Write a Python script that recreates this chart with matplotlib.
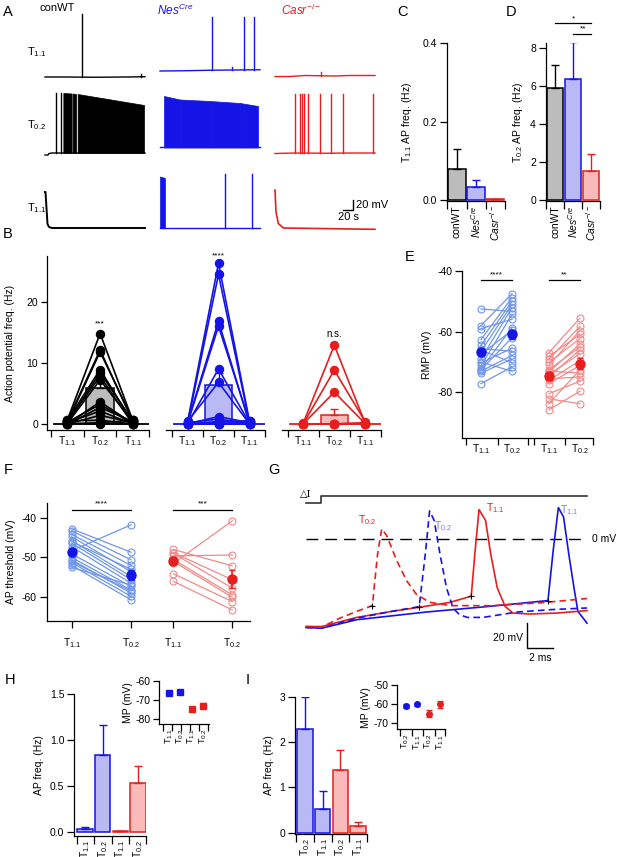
import matplotlib.pyplot as plt
import numpy as np

plt.rcParams['font.family'] = ['Liberation Sans', 'DejaVu Sans']
plt.rcParams['mathtext.fontset'] = 'custom'
plt.rcParams['mathtext.rm'] = 'Liberation Sans'
plt.rcParams['mathtext.it'] = 'Liberation Sans:italic'
plt.rcParams['axes.unicode_minus'] = False
plt.rcParams['font.size'] = 7.5
plt.rcParams['axes.linewidth'] = 0.9

W, H = 617, 857
BLUE = '#1414e6'
RED = '#e61e1e'
LBLUE = '#7096ea'
LRED = '#f28a8a'
FBLUE = '#b9b9f5'
FRED = '#f9baba'
GRAY = '#bcbcbc'
T11 = 'T$_{1.1}$'
T02 = 'T$_{0.2}$'
GENO = ['conWT', r'$\mathit{Nes}^{\mathit{Cre}}$', r'$\mathit{Casr}^{-/-}$']

# ---------------- A: example traces (time s, Vm mV) ----------------
wt1_t = [0, 40, 100, 160, 200]
wt1_v = [-70, -70, -70.5, -70, -69.5]
wt1_spk_t = [73, 192]
wt1_spk_v = [56, -63]
nes1_t = [0, 50, 100, 150, 200]
nes1_v = [-58, -57.5, -56.5, -56, -55.5]
nes1_spk_t = [104, 144, 167, 187]
nes1_spk_v = [50, -50, 50, 50]
casr1_t = [0, 30, 60, 90, 120, 150, 200]
casr1_v = [-69, -69, -67, -67.5, -68, -67, -67]
casr1_spk_t = [92]
casr1_spk_v = [-60]

wt2_t = [0, 6, 8, 14, 200]
wt2_v = [-70, -70, -67, -66, -66]
wt2_spk_t = [22, 33]
wt2_spk_v = [54, 54]
wt2_blocks = [(36.7, 53.3), (55.3, 62.0), (65.3, 198.0)]
wt2_tops = [(54, 53), (53, 52), (52, 30)]
nes2_t = [0, 8, 200]
nes2_v = [-54, -54, -54]
nes2_blocks = [(8, 40), (40, 100), (100, 160), (160, 196)]
nes2_tops = [(48, 41), (41, 38), (38, 34), (34, 28)]
casr2_t = [0, 40, 100, 150, 200]
casr2_v = [-67, -66, -66.5, -66, -66]
casr2_spk_t = [40.6, 50, 53.4, 58, 66.6, 90, 111.4, 135.4, 196.6]
casr2_spk_v = [51, 51, 51, 51, 51, 51, 51, 51, 51]

wt3_t = [0, 1, 3, 5, 8, 14, 200]
wt3_v = [2, 2, -30, -62, -68, -70, -70]
nes3_t = [0, 10, 200]
nes3_v = [-70, -70, -70]
nes3_blocks = [(0, 10)]
nes3_tops = [(33, 30)]
nes3_spk_t = [130, 183]
nes3_spk_v = [38, 38]
casr3_t = [0, 2, 6.7, 16.7, 200]
casr3_v = [6, -38, -61, -70, -72.6]

# ---------------- B: AP frequency per cell (Hz) ----------------
wt_b_t11a = [0.7, 0.5, 0.3, 0.6, 0.2, 0.4, 0.1, 0.0, 0.3, 0.0, 0.2, 0.0, 0.5, 0.0, 0.1]
wt_b_t02 = [14.8, 12.1, 11.8, 8.9, 8.4, 7.8, 7.2, 3.6, 3.2, 2.7, 2.1, 1.4, 0.6, 0.2, 0.0]
wt_b_t11b = [0.6, 0.4, 0.7, 0.2, 0.5, 0.0, 0.3, 0.1, 0.0, 0.4, 0.0, 0.2, 0.0, 0.6, 0.0]
nes_b_t11a = [0.3, 0.0, 0.2, 0.1, 0.0, 0.4, 0.0, 0.2, 0.0, 0.1, 0.0, 0.0, 0.3, 0.0]
nes_b_t02 = [26.3, 24.5, 16.8, 16.0, 9.0, 6.8, 1.2, 0.8, 0.4, 0.2, 0.0, 0.0, 0.0, 0.0]
nes_b_t11b = [0.4, 0.2, 0.0, 0.3, 0.1, 0.0, 0.2, 0.0, 0.5, 0.0, 0.1, 0.0, 0.0, 0.3]
casr_b_t11a = [0.1, 0.0, 0.0, 0.0, 0.0, 0.0, 0.0, 0.0]
casr_b_t02 = [12.9, 8.8, 5.2, 0.0, 0.0, 0.0, 0.0, 0.0]
casr_b_t11b = [0.0, 0.3, 0.0, 0.2, 0.0, 0.0, 0.1, 0.0]

# ---------------- C / D: mean AP freq ----------------
c_mean = [0.08, 0.033, 0.002]
c_err = [0.05, 0.017, 0.001]
d_mean = [5.9, 6.35, 1.5]
d_err = [1.2, 1.95, 0.9]

# ---------------- E: RMP (mV) ----------------
rmp_nes_t11 = [-52.5, -58.0, -59.0, -62.6, -64.5, -65.6, -66.5, -67.5, -69.0, -70.3,
               -71.3, -72.2, -73.0, -73.6, -77.1, -66.0, -70.0, -72.5]
rmp_nes_t02 = [-53.3, -47.5, -55.9, -48.8, -50.0, -66.4, -51.0, -59.5, -52.1, -65.4,
               -54.3, -58.7, -67.8, -69.0, -71.6, -70.2, -73.0, -62.0]
rmp_casr_t11 = [-66.9, -68.1, -69.1, -70.1, -71.1, -72.5, -73.3, -74.0, -74.9, -76.0,
                -77.1, -80.4, -82.1, -83.7, -85.7, -73.0, -75.5]
rmp_casr_t02 = [-55.5, -60.9, -58.2, -62.3, -59.6, -65.0, -64.0, -67.3, -65.9, -69.5,
                -71.1, -76.3, -83.7, -72.5, -79.6, -73.6, -74.9]
rmp_mean_nes = [-66.7, -60.9]
rmp_err_nes = [1.0, 1.5]
rmp_mean_casr = [-74.6, -70.5]
rmp_err_casr = [1.2, 1.8]

# ---------------- F: AP threshold (mV) ----------------
thr_nes_t11 = [-42.8, -43.3, -44.2, -44.8, -45.8, -46.4, -47.3, -48.3, -49.1, -50.0,
               -50.6, -51.3, -52.0, -52.5, -46.0, -51.0]
thr_nes_t02 = [-48.7, -50.6, -52.0, -53.6, -54.8, -55.6, -56.5, -41.8, -57.3, -58.2,
               -59.0, -59.8, -60.7, -57.0, -53.0, -58.5]
thr_casr_t11 = [-48.0, -48.8, -49.6, -50.5, -51.5, -54.1, -56.0, -49.0, -51.0]
thr_casr_t02 = [-52.1, -55.6, -49.4, -59.4, -40.8, -61.1, -63.2, -57.7, -60.0]
thr_mean_nes = [-48.7, -54.4]
thr_err_nes = [1.0, 1.2]
thr_mean_casr = [-50.9, -55.4]
thr_err_casr = [0.8, 2.2]

# ---------------- G: single APs (ms, mV) ----------------
g_red02_t = [0, 1.2, 2.6, 3.9, 5.1, 5.5, 5.82, 6.2, 6.98, 7.75, 8.5, 9.5, 11.1, 14.2, 18.0, 21.6]
g_red02_v = [-72.5, -73, -65.6, -60, -55.3, -12.8, 8, 2.5, -18.3, -35, -46.1, -52.5, -55.3, -55.3, -53, -49.4]
g_blue02_t = [0, 1.2, 3.9, 6.6, 8.7, 9.2, 9.5, 9.85, 10.3, 10.8, 11.3, 11.8, 12.4, 13.6, 16.2, 18.8, 21.6]
g_blue02_v = [-73.3, -73.9, -65.6, -60, -56.1, -10, 22.8, 15, -12.8, -40.6, -57.2, -62.8, -65, -65, -60.6, -58.6, -57.2]
g_red11_t = [0, 1.2, 3.9, 6.6, 9.2, 11.1, 12.7, 13.0, 13.3, 13.8, 14.2, 14.7, 15.3, 15.9, 17.2, 19.3, 21.6]
g_red11_v = [-72.5, -72.5, -65, -60, -55.8, -52.5, -47.5, -10, 23.9, 15, -12.8, -40.6, -55.8, -61.4, -62.2, -61.4, -59.4]
g_blue11_t = [0, 1.2, 3.9, 9.2, 14.2, 18.6, 19.0, 19.4, 19.8, 20.2, 20.6, 20.9, 21.6]
g_blue11_v = [-73.3, -73.9, -66.9, -60.6, -55.8, -51.1, -10, 25.6, 17.8, -12.8, -40.6, -60, -69.7]
g_thr_t = [5.1, 8.7, 12.7, 18.6]
g_thr_v = [-55.3, -56.1, -47.5, -51.1]
g_step_t = [0, 1.13, 1.13, 21.6]
g_step_v = [29, 29, 35, 35]

# ---------------- H / I ----------------
h_labels = [T11, T02, T11, T02]
h_mean = [0.03, 0.84, 0.005, 0.53]
h_err = [0.02, 0.32, 0.003, 0.19]
h_mp = [-66.3, -65.6, -74.5, -72.9]
h_mp_err = [1.0, 0.8, 1.0, 1.2]
i_labels = [T02, T11, T02, T11]
i_mean = [2.28, 0.52, 1.38, 0.14]
i_err = [0.72, 0.40, 0.44, 0.10]
i_mp = [-60.8, -60.0, -64.9, -60.0]
i_mp_err = [1.0, 0.8, 1.7, 1.8]
hi_edge = [BLUE, BLUE, RED, RED]
hi_fill = [FBLUE, FBLUE, FRED, FRED]

fig = plt.figure(figsize=(W / 100, H / 100), dpi=100)


def px_axes(x0, y0, x1, y1):
    return fig.add_axes([x0 / W, 1 - y1 / H, (x1 - x0) / W, (y1 - y0) / H])


def style(ax, ylen=4, xlen=4):
    for s in ('top', 'right'):
        ax.spines[s].set_visible(False)
    ax.tick_params(axis='y', direction='out', length=ylen, width=0.9, labelsize=7.5, pad=2)
    ax.tick_params(axis='x', direction='out', length=xlen, width=0.9, labelsize=7.5, pad=2)


def ftext(x, y, s, **kw):
    fig.text(x / W, 1 - y / H, s, **kw)


# ----- A -----
def trace_ax(x0, y_top, y_bot, y_ref):
    ax = px_axes(x0, y_top, x0 + 100, y_bot)
    ax.set_xlim(0, 200)
    ax.set_ylim(-70 - (y_bot - y_ref) * 2, -70 + (y_ref - y_top) * 2)
    ax.axis('off')
    return ax


def draw_trace(ax, t, v, color, spk_t=(), spk_v=(), blocks=(), tops=(), low=None, lw=1.0):
    ax.plot(t, v, color=color, lw=lw, clip_on=False)
    for s, p in zip(spk_t, spk_v):
        ax.plot([s, s], [np.interp(s, t, v), p], color=color, lw=1.0, clip_on=False)
    for (b0, b1), (h0, h1) in zip(blocks, tops):
        ax.fill_between([b0, b1], [low, low], [h0, h1], color=color, lw=0.5, clip_on=False)


rows = [(5, 85, 77), (85, 162, 155), (165, 236, 228)]
cols = [45, 160, 275]
a = trace_ax(cols[0], *rows[0]); draw_trace(a, wt1_t, wt1_v, 'black', wt1_spk_t, wt1_spk_v)
a = trace_ax(cols[1], *rows[0]); draw_trace(a, nes1_t, nes1_v, BLUE, nes1_spk_t, nes1_spk_v)
a = trace_ax(cols[2], *rows[0]); draw_trace(a, casr1_t, casr1_v, RED, casr1_spk_t, casr1_spk_v)
a = trace_ax(cols[0], *rows[1]); draw_trace(a, wt2_t, wt2_v, 'black', wt2_spk_t, wt2_spk_v, wt2_blocks, wt2_tops, -66)
a = trace_ax(cols[1], *rows[1]); draw_trace(a, nes2_t, nes2_v, BLUE, blocks=nes2_blocks, tops=nes2_tops, low=-55)
a = trace_ax(cols[2], *rows[1]); draw_trace(a, casr2_t, casr2_v, RED, casr2_spk_t, casr2_spk_v)
a = trace_ax(cols[0], *rows[2]); draw_trace(a, wt3_t, wt3_v, 'black', lw=1.4)
a = trace_ax(cols[1], *rows[2]); draw_trace(a, nes3_t, nes3_v, BLUE, nes3_spk_t, nes3_spk_v, nes3_blocks, nes3_tops, -70)
a = trace_ax(cols[2], *rows[2]); draw_trace(a, casr3_t, casr3_v, RED, lw=1.2)
# scale bar 20 mV / 20 s
a.plot([136, 156, 156], [-33.4, -33.4, -13.4], color='black', lw=1.0, clip_on=False)
a.text(162, -23, '20 mV', fontsize=8, va='center', ha='left')
a.text(146, -38, '20 s', fontsize=8, va='top', ha='center')

ftext(40, 8, 'conWT', fontsize=8, va='center')
ftext(157, 10, GENO[1], fontsize=8.5, va='center', color=BLUE)
ftext(281, 10, GENO[2], fontsize=8.5, va='center', color=RED)
ftext(27, 52, T11, fontsize=8, va='center')
ftext(27, 125, T02, fontsize=8, va='center')
ftext(27, 208, T11, fontsize=8, va='center')

# ----- B -----
b_boxes = [(46.5, 149, -0.144, 0.073), (165.5, 265, -0.21, 0.09), (281.7, 381, -0.19, 0.083)]
b_groups = [(wt_b_t11a, wt_b_t02, wt_b_t11b, 'black', GRAY, d_mean[0], d_err[0]),
            (nes_b_t11a, nes_b_t02, nes_b_t11b, BLUE, FBLUE, d_mean[1], d_err[1]),
            (casr_b_t11a, casr_b_t02, casr_b_t11b, RED, FRED, d_mean[2], d_err[2])]
b_axes = []
for k, ((x0, x1, xl, zs), (ta, tb, tc, col, fill, m, e)) in enumerate(zip(b_boxes, b_groups)):
    ax = px_axes(x0, 256, x1, 430)
    style(ax, xlen=5)
    ax.set_xlim(xl, 3.0)
    ax.set_ylim(-1, 27.5)
    ax.bar(1.5, m, width=0.85, color=fill, edgecolor=col, lw=1.1, zorder=1)
    ax.errorbar(1.5, m, yerr=[[0], [e]], color=col, capsize=3, lw=1.0, capthick=1.0, zorder=1)
    ax.axhline(0, xmin=zs, xmax=1, color=col, lw=1.3, zorder=2)
    for p, q, r in zip(ta, tb, tc):
        ax.plot([0.5, 1.5, 2.5], [p, q, r], '-o', color=col, ms=5.8, lw=1.2, zorder=3, clip_on=False)
    ax.set_xticks([0, 1, 2, 3])
    ax.set_xticklabels([])
    ax.set_xticks([0.5, 1.5, 2.5], minor=True)
    ax.set_xticklabels([T11, T02, T11], minor=True)
    ax.tick_params(axis='x', which='minor', length=0, pad=3, labelsize=7.5)
    if k == 0:
        ax.set_yticks([0, 10, 20])
        ax.set_ylabel('Action potential freq. (Hz)', fontsize=7.5, labelpad=8)
    else:
        ax.spines['left'].set_visible(False)
        ax.set_yticks([])
    b_axes.append(ax)
b_axes[0].text(1.5, 15.8, '***', ha='center', va='bottom', fontsize=6)
b_axes[1].text(1.5, 27.0, '****', ha='center', va='bottom', fontsize=6)
b_axes[2].text(1.5, 13.9, 'n.s.', ha='center', va='bottom', fontsize=7)

# ----- C -----
edges = ['black', BLUE, RED]
fills = [GRAY, FBLUE, FRED]
ax = px_axes(447, 43, 505, 201)
style(ax, ylen=5, xlen=6)
ax.bar([0, 1, 2], c_mean, width=0.93, color=fills, edgecolor=edges, lw=1.1)
for xi, m, e, col in zip([0, 1, 2], c_mean, c_err, edges):
    ax.errorbar(xi, m, yerr=[[0], [e]], color=col, capsize=3, lw=1.0, capthick=1.0)
ax.set_xlim(-0.52, 2.5)
ax.set_ylim(-0.0025, 0.4)
ax.set_yticks([0.0, 0.2, 0.4])
ax.set_yticklabels(['0.0', '0.2', '0.4'])
ax.set_xticks([-0.5, 0.5, 1.5, 2.5])
ax.set_xticklabels([])
ax.set_xticks([0, 1, 2], minor=True)
ax.set_xticklabels(GENO, minor=True, rotation=90)
ax.tick_params(axis='x', which='minor', length=0, pad=3)
ax.set_ylabel('T$_{1.1}$ AP freq. (Hz)', fontsize=7.5, labelpad=6)

# ----- D -----
ax = px_axes(545.7, 43, 600, 201)
style(ax, ylen=5, xlen=6)
ax.bar([0, 1, 2], d_mean, width=0.93, color=fills, edgecolor=edges, lw=1.1)
for xi, m, e, col in zip([0, 1, 2], d_mean, d_err, edges):
    ax.errorbar(xi, m, yerr=[[0], [e]], color=col, capsize=3, lw=1.0, capthick=1.0)
ax.set_xlim(-0.52, 2.5)
ax.set_ylim(-0.053, 8.26)
ax.set_yticks([0, 2, 4, 6, 8])
ax.set_xticks([-0.5, 0.5, 1.5, 2.5])
ax.set_xticklabels([])
ax.set_xticks([0, 1, 2], minor=True)
ax.set_xticklabels(GENO, minor=True, rotation=90)
ax.tick_params(axis='x', which='minor', length=0, pad=3)
ax.set_ylabel('T$_{0.2}$ AP freq. (Hz)', fontsize=7.5, labelpad=4)
ax.plot([0, 2], [9.3, 9.3], color='black', lw=0.9, clip_on=False)
ax.plot([1, 2], [8.75, 8.75], color='black', lw=0.9, clip_on=False)
ax.text(1.0, 9.35, '*', ha='center', va='bottom', fontsize=6)
ax.text(1.55, 8.8, '**', ha='center', va='bottom', fontsize=6)


# ----- E -----
def paired(ax, xs, a_vals, b_vals, col):
    for p, q in zip(a_vals, b_vals):
        ax.plot(xs, [p, q], '-o', color=col, mfc='none', ms=5, lw=0.9, mew=0.8, clip_on=False)


ax = px_axes(462, 271, 593, 438)
style(ax, ylen=5, xlen=5)
ax.set_xlim(-0.61, 3.61)
ax.set_ylim(-95, -40)
paired(ax, [0, 1], rmp_nes_t11, rmp_nes_t02, LBLUE)
paired(ax, [2.19, 3.19], rmp_casr_t11, rmp_casr_t02, LRED)
ax.errorbar([0, 1], rmp_mean_nes, yerr=rmp_err_nes, fmt='o', color=BLUE, ms=6.5,
            capsize=2.5, elinewidth=1.2, capthick=1.0, zorder=5)
ax.errorbar([2.19, 3.19], rmp_mean_casr, yerr=rmp_err_casr, fmt='o', color=RED, ms=6.5,
            capsize=2.5, elinewidth=1.2, capthick=1.0, zorder=5)
ax.plot([0, 1], [-43, -43], color='black', lw=0.9)
ax.plot([2.19, 3.19], [-43, -43], color='black', lw=0.9)
ax.text(0.5, -42.3, '****', ha='center', va='bottom', fontsize=6)
ax.text(2.69, -42.3, '**', ha='center', va='bottom', fontsize=6)
ax.set_yticks([-40, -60, -80])
ax.set_xticks([-0.48, 0.55, 1.52, 1.71, 2.71, 3.61])
ax.set_xticklabels([])
ax.set_xticks([0, 1, 2.19, 3.19], minor=True)
ax.set_xticklabels([T11, T02, T11, T02], minor=True)
ax.tick_params(axis='x', which='minor', length=0, pad=3)
ax.set_ylabel('RMP (mV)', fontsize=7.5, labelpad=4)

# ----- F -----
ax = px_axes(46.7, 503, 250, 621)
style(ax, ylen=5, xlen=5)
ax.set_xlim(-0.42, 3.0)
ax.set_ylim(-66, -36.3)
paired(ax, [0, 1], thr_nes_t11, thr_nes_t02, LBLUE)
paired(ax, [1.71, 2.70], thr_casr_t11, thr_casr_t02, LRED)
ax.errorbar([0, 1], thr_mean_nes, yerr=thr_err_nes, fmt='o', color=BLUE, ms=6.5,
            capsize=2.5, elinewidth=1.2, capthick=1.0, zorder=5)
ax.errorbar([1.71, 2.70], thr_mean_casr, yerr=thr_err_casr, fmt='o', color=RED, ms=6.5,
            capsize=2.5, elinewidth=1.2, capthick=1.0, zorder=5)
ax.plot([0, 1], [-38.1, -38.1], color='black', lw=0.9, clip_on=False)
ax.plot([1.71, 2.70], [-38.1, -38.1], color='black', lw=0.9, clip_on=False)
ax.text(0.5, -37.4, '****', ha='center', va='bottom', fontsize=6)
ax.text(2.2, -37.4, '***', ha='center', va='bottom', fontsize=6)
ax.set_yticks([-40, -50, -60])
ax.set_xticks([0, 1, 1.71, 2.70])
ax.set_xticklabels([T11, T02, T11, T02])
ax.tick_params(axis='x', pad=6)
ax.set_ylabel('AP threshold (mV)', fontsize=7.5, labelpad=4)

# ----- G -----
ax = px_axes(296, 480, 600, 672)
ax.set_xlim(-0.77, 22.6)
ax.set_ylim(-110, 48.3)
ax.axis('off')
ax.plot(g_step_t, g_step_v, color='#333333', lw=1.2)
ax.text(-0.5, 36, '△I', fontsize=7, family='DejaVu Serif', va='center', ha='left')
ax.plot([0, 21.4], [0, 0], color='black', lw=1.0, dashes=(8.5, 5))
ax.text(22.0, 0, '0 mV', fontsize=7.5, va='center', ha='left', clip_on=False)
ax.plot(g_blue11_t, g_blue11_v, color=BLUE, lw=1.2)
ax.plot(g_red11_t, g_red11_v, color=RED, lw=1.2)
ax.plot(g_blue02_t, g_blue02_v, color=BLUE, lw=1.2, dashes=(4, 2.5))
ax.plot(g_red02_t, g_red02_v, color=RED, lw=1.2, dashes=(4, 2.5))
ax.plot(g_thr_t, g_thr_v, '+', color='black', ms=4, mew=0.8)
ax.text(4.7, 15, T02, color=RED, fontsize=7.5, ha='center', va='center')
ax.text(10.5, 10, T02, color='#7b7bef', fontsize=7.5, ha='center', va='center')
ax.text(14.5, 25, T11, color=RED, fontsize=7.5, ha='center', va='center')
ax.text(20.2, 23.3, T11, color='#7b7bef', fontsize=7.5, ha='center', va='center')
ax.plot([17.0, 17.0, 19.0], [-70, -90, -90], color='black', lw=1.0)
ax.text(16.7, -82, '20 mV', fontsize=7.5, ha='right', va='center')
ax.text(18.0, -94, '2 ms', fontsize=7.5, ha='center', va='top')


# ----- H / I -----
def freq_bars(box, ylim, yticks, yticklabels, xlim, xt, mean, err, labels):
    ax = px_axes(*box)
    style(ax, ylen=5, xlen=6)
    x = [0, 1, 2, 3]
    ax.bar(x, mean, width=0.88, color=hi_fill, edgecolor=hi_edge, lw=1.1)
    for xi, m, e, col in zip(x, mean, err, hi_edge):
        ax.errorbar(xi, m, yerr=[[0], [e]], color=col, capsize=3, lw=1.0, capthick=1.0)
    ax.set_xlim(*xlim)
    ax.set_ylim(*ylim)
    ax.set_yticks(yticks)
    ax.set_yticklabels(yticklabels)
    ax.set_xticks(xt)
    ax.set_xticklabels([])
    ax.set_xticks(x, minor=True)
    ax.set_xticklabels(labels, minor=True, rotation=90)
    ax.tick_params(axis='x', which='minor', length=0, pad=3)
    ax.set_ylabel('AP freq. (Hz)', fontsize=7.5, labelpad=4)
    return ax


def mp_inset(box, ylim, yticks, xlim, xt, mp, mp_err, labels, marker):
    ax = px_axes(*box)
    style(ax, ylen=4, xlen=5)
    for xi, m, e, col in zip([0, 1, 2, 3], mp, mp_err, hi_edge):
        ax.errorbar(xi, m, yerr=e, fmt=marker, color=col, ms=4, capsize=2, elinewidth=1.0, capthick=0.9)
    ax.set_xlim(*xlim)
    ax.set_ylim(*ylim)
    ax.set_yticks(yticks)
    ax.set_xticks(xt)
    ax.set_xticklabels([])
    ax.set_xticks([0, 1, 2, 3], minor=True)
    ax.set_xticklabels(labels, minor=True, rotation=90, fontsize=6.5)
    ax.tick_params(axis='x', which='minor', length=0, pad=3)
    ax.set_ylabel('MP (mV)', fontsize=7.5, labelpad=2)
    return ax


freq_bars((74, 694.3, 145.7, 836), (-0.047, 1.5), [0, 0.5, 1.0, 1.5], ['0.0', '0.5', '1.0', '1.5'],
          (-0.62, 3.43), [-0.47, 0.5, 1.5, 2.5, 3.43], h_mean, h_err, h_labels)
mp_inset((159.3, 681, 209.3, 724), (-82.5, -60), [-60, -70, -80], (-0.86, 3.57),
         [-0.5, 0.27, 1.06, 1.86, 2.69, 3.48], h_mp, h_mp_err, h_labels, 's')
freq_bars((295, 696.7, 366.7, 834), (-0.03, 3.0), [0, 1, 2, 3], ['0', '1', '2', '3'],
          (-0.57, 3.5), [-0.51, 0.51, 1.52, 2.52, 3.5], i_mean, i_err, i_labels)
mp_inset((396.7, 685, 445.3, 729.3), (-73.1, -50), [-50, -60, -70], (-0.78, 3.44),
         [-0.5, 0.52, 1.53, 2.55, 3.44], i_mp, i_mp_err, i_labels, 'o')

# panel letters
for x, y, s in [(3, 12, 'A'), (3, 234, 'B'), (397, 12, 'C'), (506, 12, 'D'), (405, 257, 'E'),
                (4, 470, 'F'), (268, 470, 'G'), (5, 680, 'H'), (246, 680, 'I')]:
    ftext(x, y, s, fontsize=10.5, va='center', ha='left')

fig.savefig('out.png', dpi=100)
